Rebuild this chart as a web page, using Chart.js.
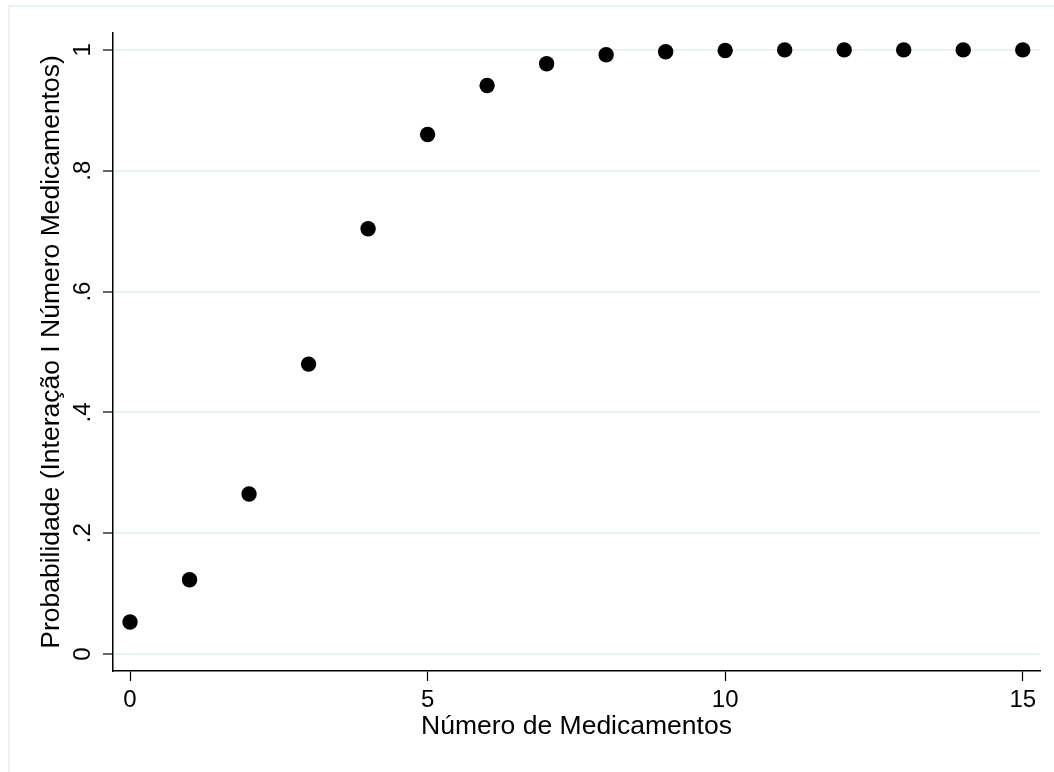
<!DOCTYPE html>
<html>
<head>
<meta charset="utf-8">
<script src="https://cdn.jsdelivr.net/npm/chart.js@4"></script>
<style>
  html, body { margin: 0; padding: 0; background: #fff; }
  #wrap { width: 1054px; height: 772px; }
</style>
</head>
<body>
<div id="wrap"><canvas id="chart" width="1054" height="772"></canvas></div>
<script>
// values
const medicationCounts = [0, 1, 2, 3, 4, 5, 6, 7, 8, 9, 10, 11, 12, 13, 14, 15];
const interactionProbability = [0.053, 0.123, 0.265, 0.48, 0.704, 0.86, 0.941, 0.977, 0.992, 0.997, 0.999, 1.0, 1.0, 1.0, 1.0, 1.0];
const xTicks = [0, 5, 10, 15];
const yTicks = [0, 0.2, 0.4, 0.6, 0.8, 1];

const fontFamily = "'Liberation Sans', Arial, Helvetica, sans-serif";

function formatYTick(value){
    if (value === 0) return "0";
    if (Math.abs(value - 1) < 1e-9) return "1";
    return value.toFixed(1).replace(/^0/, "");
};

// light outer frame like the Stata graph region
const framePlugin = {
    id: "frame",
    beforeDraw(chart){
        const ctx = chart.ctx;
        ctx.save();
        ctx.fillStyle = "#ffffff";
        ctx.fillRect(0, 0, chart.width, chart.height);
        ctx.strokeStyle = "#eaf2f4";
        ctx.lineWidth = 2;
        ctx.beginPath();
        ctx.moveTo(9, chart.height);
        ctx.lineTo(9, 6);
        ctx.lineTo(chart.width, 6);
        ctx.stroke();
        ctx.restore();
    }
};

const points = medicationCounts.map((x, i) => ({x: x, y: interactionProbability[i]}));

const config = {
    type: "scatter",
    data: {
        datasets: [{
            label: "Probabilidade",
            data: points,
            backgroundColor: "#000",
            borderColor: "#000",
            borderWidth: 0,
            pointRadius: 7.7,
            pointHoverRadius: 7.7,
        }]
    },
    options: {
        responsive: false,
        animation: false,
        layout: {
            padding: {left: 0, right: 14, top: 33, bottom: 0}
        },
        scales: {
            x: {
                type: "linear",
                min: -0.286,
                max: 15.29,
                afterFit: (scale) => { scale.height = 101; },
                afterBuildTicks: (scale) => { scale.ticks = xTicks.map(v => ({value: v})); },
                ticks: {
                    includeBounds: false,
                    color: "#000",
                    padding: 5,
                    maxRotation: 0,
                    font: {family: fontFamily, size: 24},
                },
                grid: {
                    drawOnChartArea: false,
                    drawTicks: true,
                    tickLength: 10,
                    tickColor: "#000",
                    tickWidth: 1.2,
                },
                border: {
                    display: true,
                    color: "#000",
                    width: 1.5,
                },
                title: {
                    display: true,
                    text: "Número de Medicamentos",
                    color: "#000",
                    font: {family: fontFamily, size: 26.5},
                    padding: {top: 0, bottom: 29},
                }
            },
            y: {
                type: "linear",
                min: -0.028,
                max: 1.028,
                afterFit: (scale) => { scale.width = 113; },
                afterBuildTicks: (scale) => { scale.ticks = yTicks.map(v => ({value: v})); },
                ticks: {
                    includeBounds: false,
                    color: "#000",
                    minRotation: 90,
                    maxRotation: 90,
                    crossAlign: "center",
                    padding: 10,
                    font: {family: fontFamily, size: 24},
                    callback: (value) => formatYTick(value),
                },
                grid: {
                    color: "#e9f1f3",
                    lineWidth: 2,
                    drawTicks: true,
                    tickLength: 10,
                    tickColor: "#000",
                    tickWidth: 1.2,
                },
                border: {
                    display: true,
                    color: "#000",
                    width: 1.5,
                },
                title: {
                    display: true,
                    text: "Probabilidade (Interação I Número Medicamentos)",
                    color: "#000",
                    font: {family: fontFamily, size: 26.5},
                    padding: {top: 36, bottom: 0},
                }
            }
        },
        plugins: {
            legend: {display: false},
            tooltip: {enabled: false},
        }
    },
    plugins: [framePlugin]
};

const chart = new Chart(document.getElementById("chart"), config);
</script>
</body>
</html>
